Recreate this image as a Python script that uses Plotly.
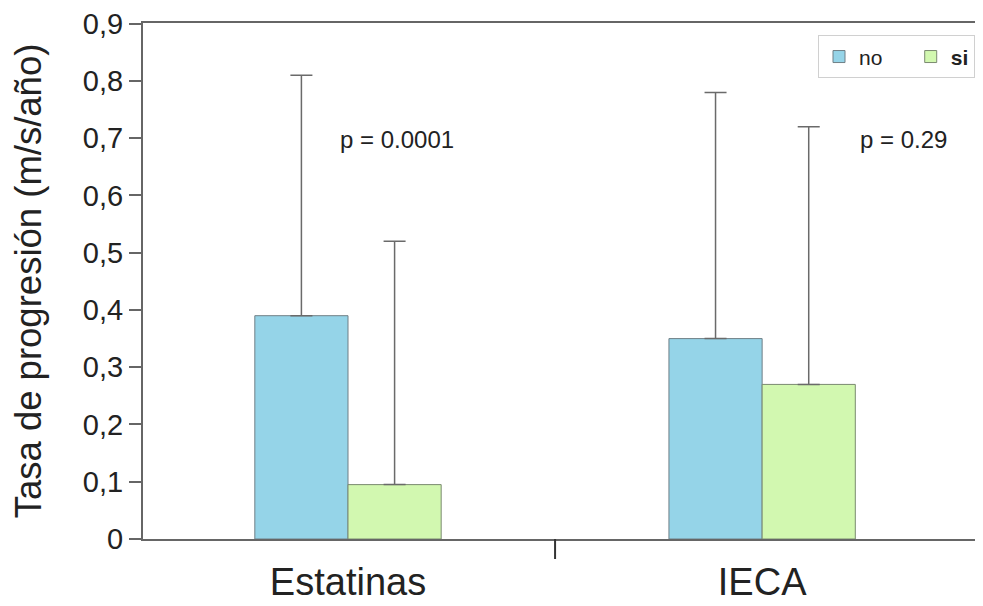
import plotly.graph_objects as go

categories = ["Estatinas", "IECA"]
no_values = [0.39, 0.35]
no_err = [0.42, 0.43]
si_values = [0.095, 0.27]
si_err = [0.425, 0.45]
p_labels = ["p = 0.0001", "p = 0.29"]
y_ticks = [0, 0.1, 0.2, 0.3, 0.4, 0.5, 0.6, 0.7, 0.8, 0.9]
y_ticktext = ["0", "0,1", "0,2", "0,3", "0,4", "0,5", "0,6", "0,7", "0,8", "0,9"]

FONT = "Liberation Sans, Arial, Helvetica"
NB = "\u00a0"

fig = go.Figure()
fig.add_trace(go.Bar(
    x=categories, y=no_values, name="no" + NB * 4,
    marker=dict(color="#95D4E8", line=dict(color="#6f7f86", width=1)),
    error_y=dict(type="data", symmetric=False, array=no_err, arrayminus=[0, 0],
                 color="#6a6a6a", thickness=1.5, width=11),
))
fig.add_trace(go.Bar(
    x=categories, y=si_values, name="<b>si</b>",
    marker=dict(color="#D2F8B0", line=dict(color="#7a8a70", width=1)),
    error_y=dict(type="data", symmetric=False, array=si_err, arrayminus=[0, 0],
                 color="#6a6a6a", thickness=1.5, width=11),
))

fig.add_annotation(x=0, y=0.697, xref="x", yref="y", text=p_labels[0], showarrow=False,
                   xshift=49, font=dict(size=24, color="#222", family=FONT))
fig.add_annotation(x=1, y=0.697, xref="x", yref="y", text=p_labels[1], showarrow=False,
                   xshift=141, font=dict(size=24, color="#222", family=FONT))

# divider tick between the two category groups (category boundary at 0.5)
fig.add_shape(type="line", xref="x", yref="y domain", x0=0.5, x1=0.5,
              y0=0, y1=-20 / 516, line=dict(color="#333", width=2))

X_RANGE = [-0.495, 1.514]

fig.update_layout(
    width=967, height=598,
    margin=dict(l=135, r=0, t=15, b=67),
    paper_bgcolor="white", plot_bgcolor="white",
    barmode="group", bargap=0.55, bargroupgap=0,
    font=dict(family=FONT, color="#222"),
    legend=dict(orientation="h", x=1.0, xanchor="right", y=0.976, yanchor="top",
                bordercolor="#d0d0d0", borderwidth=1, bgcolor="white",
                font=dict(size=21, color="#222"), itemwidth=30, tracegroupgap=0),
    showlegend=True,
    xaxis=dict(range=X_RANGE, showline=True, linecolor="#666", linewidth=2,
               mirror=True, ticks="", tickfont=dict(size=38, color="#222"),
               showgrid=False, ticklabelstandoff=8, automargin=False),
    yaxis=dict(range=[0, 0.9012], tickvals=y_ticks, ticktext=y_ticktext,
               showline=True, linecolor="#666", linewidth=2, ticks="outside", ticklen=12,
               tickcolor="#666", tickwidth=1.5, tickfont=dict(size=29, color="#222"),
               showgrid=False, zeroline=False, automargin=False,
               ticklabeloverflow="allow",
               title=dict(text="Tasa de progresión (m/s/año)",
                          font=dict(size=36.5, color="#222"), standoff=30)),
)

fig.write_html("out.html")
